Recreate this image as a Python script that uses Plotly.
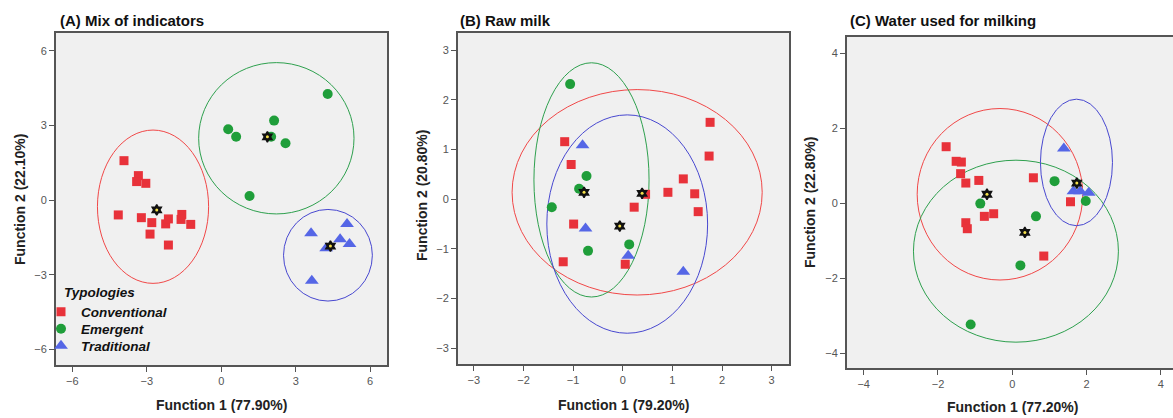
import plotly.graph_objects as go

# ---------------- data ----------------
groups = ["Conventional", "Emergent", "Traditional"]

# Panel A: Mix of indicators
a_conv_x = [-3.92, -3.34, -3.41, -3.04, -4.15, -3.22, -2.80, -2.87, -2.24, -2.13, -1.59, -1.62, -1.23, -2.13]
a_conv_y = [1.58, 0.98, 0.74, 0.67, -0.60, -0.71, -0.91, -1.37, -0.96, -0.76, -0.58, -0.78, -0.98, -1.81]
a_emer_x = [4.29, 2.13, 0.28, 0.60, 2.01, 2.59, 1.14]
a_emer_y = [4.26, 3.19, 2.84, 2.54, 2.54, 2.28, 0.16]
a_trad_x = [5.07, 3.62, 4.79, 5.17, 4.23, 3.65]
a_trad_y = [-0.96, -1.34, -1.58, -1.77, -1.94, -3.24]
a_cent_x = [-2.60, 1.86, 4.40]
a_cent_y = [-0.40, 2.54, -1.85]
a_ell_cx = [-2.75, 2.22, 4.30]
a_ell_cy = [-0.27, 2.48, -2.22]
a_ell_rx = [2.24, 3.13, 1.79]
a_ell_ry = [3.08, 3.04, 1.84]

# Panel B: Raw milk
b_conv_x = [-1.17, -1.04, -0.99, -1.20, 0.05, 0.23, 0.46, 0.91, 1.22, 1.45, 1.52, 1.74, 1.76]
b_conv_y = [1.16, 0.70, -0.50, -1.26, -1.31, -0.16, 0.10, 0.14, 0.41, 0.11, -0.25, 0.87, 1.55]
b_emer_x = [-1.06, -0.73, -0.88, -1.43, -0.70, 0.13]
b_emer_y = [2.32, 0.47, 0.21, -0.16, -1.04, -0.91]
b_trad_x = [-0.81, -0.75, 0.11, 1.22]
b_trad_y = [1.09, -0.59, -1.14, -1.46]
b_cent_x = [0.39, -0.78, -0.06]
b_cent_y = [0.12, 0.14, -0.54]
b_ell_cx = [0.29, -0.63, 0.09]
b_ell_cy = [0.14, 0.39, -0.50]
b_ell_rx = [2.52, 1.16, 1.62]
b_ell_ry = [2.07, 2.36, 2.20]

# Panel C: Water used for milking
c_conv_x = [-1.78, -1.51, -1.37, -1.39, -1.25, -0.90, 0.57, -0.75, -0.50, -1.25, -1.21, 1.57, 0.85]
c_conv_y = [1.51, 1.12, 1.10, 0.79, 0.54, 0.61, 0.68, -0.35, -0.28, -0.52, -0.68, 0.04, -1.41]
c_emer_x = [-0.86, 1.14, 1.98, 0.64, 0.22, -1.12]
c_emer_y = [-0.01, 0.59, 0.06, -0.35, -1.66, -3.24]
c_trad_x = [1.39, 1.65, 1.83, 2.06]
c_trad_y = [1.46, 0.32, 0.32, 0.28]
c_cent_x = [-0.68, 0.34, 1.74]
c_cent_y = [0.24, -0.78, 0.54]
c_ell_cx = [-0.33, 0.10, 1.73]
c_ell_cy = [0.24, -1.28, 1.09]
c_ell_rx = [2.23, 2.76, 0.97]
c_ell_ry = [2.29, 2.43, 1.69]

titles = ["(A) Mix of indicators", "(B) Raw milk", "(C) Water used for milking"]
xtitles = ["Function 1 (77.90%)", "Function 1 (79.20%)", "Function 1 (77.20%)"]
ytitles = ["Function 2 (22.10%)", "Function 2 (20.80%)", "Function 2 (22.80%)"]
legend_title = "Typologies"
a_ticks = [-6, -3, 0, 3, 6]
b_ticks = [-3, -2, -1, 0, 1, 2, 3]
c_ticks = [-4, -2, 0, 2, 4]

# ---------------- style ----------------
W, H = 1173, 418
marker_colors = ["#E8323A", "#1F9E3A", "#5566E6"]
ellipse_colors = ["#F04848", "#2EA04E", "#4848D0"]
symbols = ["square", "circle", "triangle-up"]
sizes = [9, 10, 12]

panels = [
    dict(pts=[(a_conv_x, a_conv_y), (a_emer_x, a_emer_y), (a_trad_x, a_trad_y)],
         cent=(a_cent_x, a_cent_y), ell=(a_ell_cx, a_ell_cy, a_ell_rx, a_ell_ry),
         ticks=a_ticks, xr=[-6.66, 6.68], yr=[-6.63, 6.71],
         px=(56, 387), py=(33, 365), ymirror=True),
    dict(pts=[(b_conv_x, b_conv_y), (b_emer_x, b_emer_y), (b_trad_x, b_trad_y)],
         cent=(b_cent_x, b_cent_y), ell=(b_ell_cx, b_ell_cy, b_ell_rx, b_ell_ry),
         ticks=b_ticks, xr=[-3.32, 3.35], yr=[-3.32, 3.35],
         px=(458, 789), py=(33, 364), ymirror=True),
    dict(pts=[(c_conv_x, c_conv_y), (c_emer_x, c_emer_y), (c_trad_x, c_trad_y)],
         cent=(c_cent_x, c_cent_y), ell=(c_ell_cx, c_ell_cy, c_ell_rx, c_ell_ry),
         ticks=c_ticks, xr=[-4.45, 4.33], yr=[-4.40, 4.44],
         px=(847, 1173), py=(37, 368), ymirror=False),
]

title_pos = [(58, 20), (458, 20), (848, 20)]
xtitle_pos = [(221, 405), (623, 405), (1012, 407)]
ytitle_pos = [(20, 200), (422, 196), (810, 203)]
legend_rows = [312, 329, 346]      # pixel rows of legend entries
legend_left = 41

fig = go.Figure()
layout = dict(
    width=W, height=H, margin=dict(l=0, r=0, t=0, b=0),
    paper_bgcolor="white", plot_bgcolor="#F0F0F0",
    font=dict(family="Liberation Sans, Arial, sans-serif", color="#222"),
    showlegend=True,
)
legend_names = ["legend", "legend2", "legend3"]
for g in range(3):
    layout[legend_names[g]] = dict(
        x=legend_left / W, y=1 - legend_rows[g] / H, xanchor="left", yanchor="middle",
        bgcolor="rgba(0,0,0,0)", borderwidth=0, itemwidth=30,
        font=dict(size=13.5, color="#111", style="italic", weight="bold"),
    )

shapes = []
annotations = []
for i, p in enumerate(panels):
    n = "" if i == 0 else str(i + 1)
    xa, ya = "x" + n, "y" + n
    for g in range(3):
        fig.add_trace(go.Scatter(
            x=p["pts"][g][0], y=p["pts"][g][1], mode="markers", name=groups[g],
            xaxis=xa, yaxis=ya, showlegend=(i == 0), legend=legend_names[g],
            marker=dict(symbol=symbols[g], size=sizes[g], color=marker_colors[g],
                        line=dict(width=0)),
        ))
    # group centroids
    fig.add_trace(go.Scatter(
        x=p["cent"][0], y=p["cent"][1], mode="markers", xaxis=xa, yaxis=ya,
        showlegend=False,
        marker=dict(symbol="hexagram", size=8, color="#111",
                    line=dict(width=1.5, color="#111")),
    ))
    fig.add_trace(go.Scatter(
        x=p["cent"][0], y=p["cent"][1], mode="markers", xaxis=xa, yaxis=ya,
        showlegend=False,
        marker=dict(symbol="circle", size=3, color="#F5E04A", line=dict(width=0)),
    ))
    cx, cy, rx, ry = p["ell"]
    for g in range(3):
        shapes.append(dict(
            type="circle", xref=xa, yref=ya,
            x0=cx[g] - rx[g], x1=cx[g] + rx[g], y0=cy[g] - ry[g], y1=cy[g] + ry[g],
            line=dict(color=ellipse_colors[g], width=1), fillcolor="rgba(0,0,0,0)",
            layer="below",
        ))
    axis_common = dict(
        showgrid=False, zeroline=False, showline=True,
        linecolor="#555", linewidth=2, ticks="outside", ticklen=5, tickwidth=1,
        tickcolor="#555", tickvals=p["ticks"], tickfont=dict(size=11, color="#555"),
    )
    layout["xaxis" + n] = dict(
        axis_common, mirror=True, domain=[p["px"][0] / W, min(p["px"][1] / W, 1.0)],
        range=p["xr"], anchor=ya,
    )
    layout["yaxis" + n] = dict(
        axis_common, mirror=p["ymirror"], domain=[1 - p["py"][1] / H, 1 - p["py"][0] / H],
        range=p["yr"], anchor=xa,
    )
    annotations.append(dict(
        text="<b>" + titles[i] + "</b>", x=title_pos[i][0] / W, y=1 - title_pos[i][1] / H,
        xref="paper", yref="paper", xanchor="left", yanchor="middle",
        showarrow=False, font=dict(size=15, color="#111"),
    ))
    annotations.append(dict(
        text="<b>" + xtitles[i] + "</b>", x=xtitle_pos[i][0] / W, y=1 - xtitle_pos[i][1] / H,
        xref="paper", yref="paper", xanchor="center", yanchor="middle",
        showarrow=False, font=dict(size=14, color="#222"),
    ))
    annotations.append(dict(
        text="<b>" + ytitles[i] + "</b>", x=ytitle_pos[i][0] / W, y=1 - ytitle_pos[i][1] / H,
        xref="paper", yref="paper", xanchor="center", yanchor="middle",
        showarrow=False, textangle=-90, font=dict(size=14, color="#222"),
    ))

annotations.append(dict(
    text="<b><i>" + legend_title + "</i></b>", x=62 / W, y=1 - 292 / H,
    xref="paper", yref="paper", xanchor="left", yanchor="middle",
    showarrow=False, font=dict(size=13.5, color="#111"),
))

layout["shapes"] = shapes
layout["annotations"] = annotations
fig.update_layout(**layout)
fig.write_html("out.html", config={"displayModeBar": False},
               post_script="document.body.style.margin='0';")
